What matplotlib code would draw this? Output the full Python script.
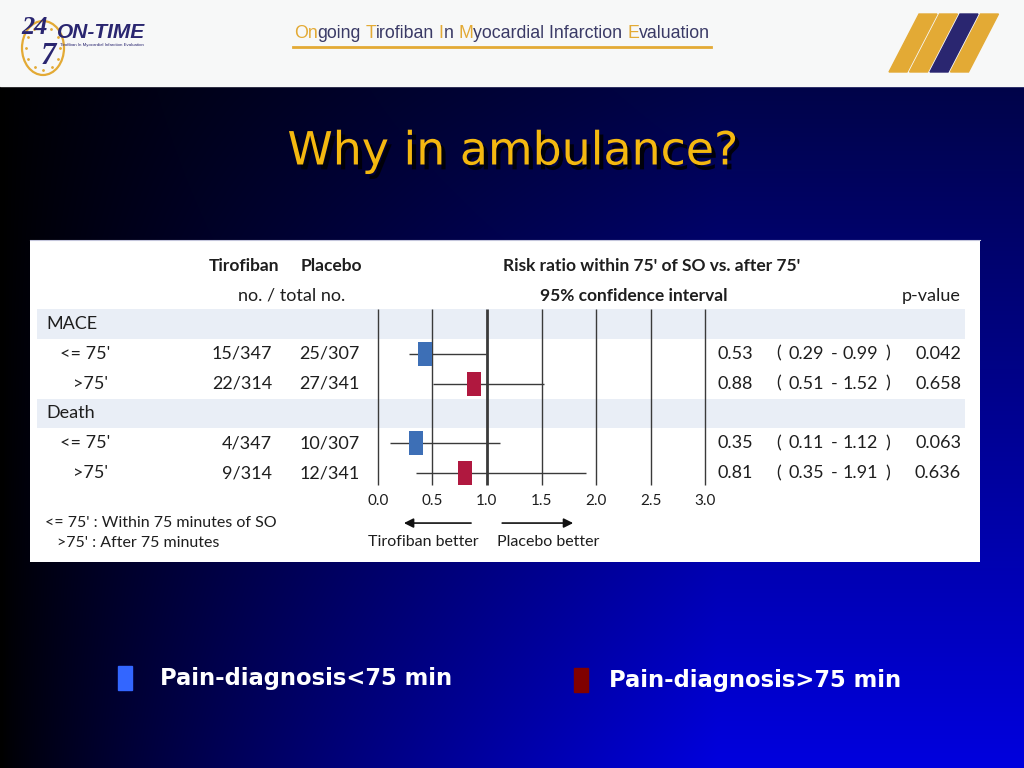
import matplotlib
matplotlib.use("Agg")
import matplotlib.pyplot as plt
import matplotlib.patheffects as pe
from matplotlib.patches import Rectangle, Polygon, Ellipse
from matplotlib import font_manager
import numpy as np

# forest plot data (ON-TIME trial)
groups = ["MACE", "Death"]
subgroups = ["<= 75'", ">75'", "<= 75'", ">75'"]
tirofiban = ["15/347", "22/314", "4/347", "9/314"]
placebo = ["25/307", "27/341", "10/307", "12/341"]
rr = ["0.53", "0.88", "0.35", "0.81"]
ci_low = [0.29, 0.51, 0.11, 0.35]
ci_high = [0.99, 1.52, 1.12, 1.91]
p_values = ["0.042", "0.658", "0.063", "0.636"]
box_pos = [0.43, 0.88, 0.35, 0.80]   # square positions as drawn in the slide
box_colors = ["#3d6fb6", "#b0183f", "#3d6fb6", "#b0183f"]
ticks = [0.0, 0.5, 1.0, 1.5, 2.0, 2.5, 3.0]
legend_labels = ["Pain-diagnosis<75 min", "Pain-diagnosis>75 min"]
legend_colors = ["#3366ff", "#800000"]

group_rows = [0, 3]
sub_rows = [1, 2, 4, 5]

names = {f.name for f in font_manager.fontManager.ttflist}
narrow = "Liberation Sans Narrow" if "Liberation Sans Narrow" in names else "Liberation Sans"
tf = "Lato"
ink = "#1e1e1e"
gold = "#e3aa35"
navy = "#2a2670"

fig = plt.figure(figsize=(10.24, 7.68), dpi=100)

# ---- slide background (pixel coordinates) ----
bg = fig.add_axes([0, 0, 1, 1])
bg.set_xlim(0, 1024)
bg.set_ylim(768, 0)
bg.axis("off")

xs = np.linspace(0, 1024, 256)
ys = np.linspace(86, 768, 170)
X, Y = np.meshgrid(xs, ys)
gx = np.clip(X / 720.0, 0, 1) ** 0.8
gy = 0.33 + 0.67 * (Y - 86) / 682.0
img = np.zeros(X.shape + (3,))
img[..., 2] = 0.87 * gx * gy
img[..., 1] = 0.02 * gx * (1 - gy)
bg.imshow(img, extent=(0, 1024, 768, 86), aspect="auto", interpolation="bilinear", zorder=0)
bg.add_patch(Rectangle((0, 0), 1024, 86, color="#f7f8f8", zorder=1))

# header title with coloured initials, drawn piece by piece
r = fig.canvas.get_renderer()
head = "Ongoing Tirofiban In Myocardial Infarction Evaluation"
pieces = [("On", gold), ("going ", "#3a3a66"), ("T", gold), ("irofiban ", "#3a3a66"),
          ("I", gold), ("n ", "#3a3a66"), ("M", gold), ("yocardial Infarction ", "#3a3a66"),
          ("E", gold), ("valuation", "#3a3a66")]
hx, hy = 294, 33
hkw = dict(family=narrow, fontsize=12.8, va="center", ha="left", zorder=3)


def text_w(s):
    probe = bg.text(hx, hy, s, alpha=0, **hkw)
    w = probe.get_window_extent(renderer=r).width
    probe.remove()
    return w


k = 0
for s, c in pieces:
    x0 = hx + text_w(head[:k + 1]) - text_w(head[k])
    bg.text(x0, hy, s.rstrip(), color=c, **hkw)
    k += len(s)
bg.plot([293, 711], [47, 47], color=gold, lw=2, zorder=3)

# left logo
bg.add_patch(Ellipse((43, 48), 42, 54, fill=False, ec=gold, lw=1.6, zorder=2))
for a in np.linspace(0, 2 * np.pi, 12, endpoint=False):
    bg.plot(43 + 17 * np.cos(a), 48 + 22 * np.sin(a), ".", color=gold, ms=2, zorder=2)
bg.text(35, 27, "24", family="Liberation Serif", style="italic", weight="bold",
        fontsize=19, color=navy, ha="center", va="center", zorder=3)
bg.text(48, 57, "7", family="Liberation Serif", style="italic", weight="bold",
        fontsize=22, color=navy, ha="center", va="center", zorder=3)
bg.text(57, 33, "ON-TIME", family=narrow, style="italic", weight="bold",
        fontsize=15, color=navy, ha="left", va="center", zorder=3)
bg.text(60, 45, "Tirofiban In Myocardial Infarction Evaluation", family=narrow,
        fontsize=3.2, color=navy, ha="left", va="center", zorder=3)

# right logo stripes
for i in range(4):
    x0 = 919 + 20.5 * i
    c = navy if i == 2 else gold
    bg.add_patch(Polygon([[x0, 14], [x0 + 18, 14], [x0 + 18 - 30, 72], [x0 - 30, 72]],
                         closed=True, color=c, zorder=2))

# slide title with drop shadow
bg.text(513, 152, "Why in ambulance?", family="DejaVu Sans", fontsize=33,
        color="#f4b810", ha="center", va="center", zorder=3,
        path_effects=[pe.SimplePatchShadow(offset=(3, -3.5), shadow_rgbFace="#000008", alpha=0.95),
                      pe.Normal()])

# bottom legend
lx = [118, 574]
tx = [160, 609]
ly = [678, 680]
for i in range(2):
    bg.add_patch(Rectangle((lx[i], ly[i] - 12), 14, 24, color=legend_colors[i], zorder=3))
    bg.text(tx[i], ly[i], legend_labels[i], family="DejaVu Sans", weight="bold",
            fontsize=16.3, color="white", ha="left", va="center", zorder=3)

# ---- forest plot panel ----
ax = fig.add_axes([30 / 1024, 1 - 562 / 768, 950 / 1024, 322 / 768])
ax.set_facecolor("white")
ax.set_xticks([])
ax.set_yticks([])
for s in ax.spines.values():
    s.set_visible(False)
ax.spines["top"].set_visible(True)
ax.spines["top"].set_color("#c4c6dc")
ax.set_xlim((30 - 377.7) / 109.2, (980 - 377.7) / 109.2)
ax.set_ylim((562 - 324) / 29.8, (240 - 324) / 29.8)

for g in group_rows:
    ax.axhspan(g - 0.5, g + 0.5, xmin=0.0074, xmax=0.984, color="#e9eef6", lw=0, zorder=0)

ax.vlines(ticks, -0.5, 5.4, colors="#3a3a3a", lw=[2.0 if t == 1.0 else 1.0 for t in ticks], zorder=1)
ax.hlines(sub_rows, ci_low, ci_high, colors="#3a3a3a", lw=1.0, zorder=2)
ax.barh(sub_rows, 0.13, left=np.array(box_pos) - 0.065, height=0.8,
        color=box_colors, zorder=3)

fs = 13
for t in ticks:
    ax.text(t, 5.95, f"{t:.1f}", family=tf, fontsize=11, color=ink, ha="center", va="center")

for g, name in zip(group_rows, groups):
    ax.text(-3.03, g, name, family=tf, fontsize=fs, color=ink, ha="left", va="center")

for i, y in enumerate(sub_rows):
    indent = -2.91 if subgroups[i].startswith("<") else -2.79
    ax.text(indent, y, subgroups[i], family=tf, fontsize=fs, color=ink, ha="left", va="center")
    ax.text(-0.967, y, tirofiban[i], family=tf, fontsize=fs, color=ink, ha="right", va="center")
    ax.text(-0.163, y, placebo[i], family=tf, fontsize=fs, color=ink, ha="right", va="center")
    ax.text(3.108, y, rr[i], family=tf, fontsize=fs, color=ink, ha="left", va="center")
    ax.text(3.647, y, "(", family=tf, fontsize=fs, color=ink, ha="left", va="center")
    ax.text(3.76, y, f"{ci_low[i]:.2f}", family=tf, fontsize=fs, color=ink, ha="left", va="center")
    ax.text(4.18, y, "-", family=tf, fontsize=fs, color=ink, ha="center", va="center")
    ax.text(4.58, y, f"{ci_high[i]:.2f}", family=tf, fontsize=fs, color=ink, ha="right", va="center")
    ax.text(4.65, y, ")", family=tf, fontsize=fs, color=ink, ha="left", va="center")
    ax.text(5.342, y, p_values[i], family=tf, fontsize=fs, color=ink, ha="right", va="center")

# column headers
ax.text(-1.224, -1.95, "Tirofiban", family=tf, weight="bold", fontsize=12.5, color=ink, ha="center", va="center")
ax.text(-0.426, -1.95, "Placebo", family=tf, weight="bold", fontsize=12.5, color=ink, ha="center", va="center")
ax.text(-0.785, -0.94, "no. / total no.", family=tf, fontsize=fs, color=ink, ha="center", va="center")
ax.text(1.149, -1.95, "Risk ratio within 75' of SO vs. after 75'", family=tf, weight="bold",
        fontsize=12.5, color=ink, ha="left", va="center")
ax.text(1.487, -0.94, "95% confidence interval", family=tf, weight="bold", fontsize=12.5,
        color=ink, ha="left", va="center")
ax.text(5.342, -0.94, "p-value", family=tf, fontsize=fs, color=ink, ha="right", va="center")

# direction arrows
arrow = dict(arrowstyle="-|>", color="#111111", lw=1.2, mutation_scale=14, shrinkA=0, shrinkB=0)
ax.annotate("", xy=(0.24, 6.68), xytext=(0.855, 6.68), arrowprops=arrow)
ax.annotate("", xy=(1.79, 6.68), xytext=(1.14, 6.68), arrowprops=arrow)
ax.text(0.414, 7.32, "Tirofiban better", family=tf, fontsize=11.5, color=ink, ha="center", va="center")
ax.text(1.56, 7.32, "Placebo better", family=tf, fontsize=11.5, color=ink, ha="center", va="center")

# footnote
ax.text(-3.046, 6.68, "<= 75' : Within 75 minutes of SO", family=tf, fontsize=11.5, color=ink, ha="left", va="center")
ax.text(-2.936, 7.35, ">75' : After 75 minutes", family=tf, fontsize=11.5, color=ink, ha="left", va="center")

fig.savefig("out.png", dpi=100)
